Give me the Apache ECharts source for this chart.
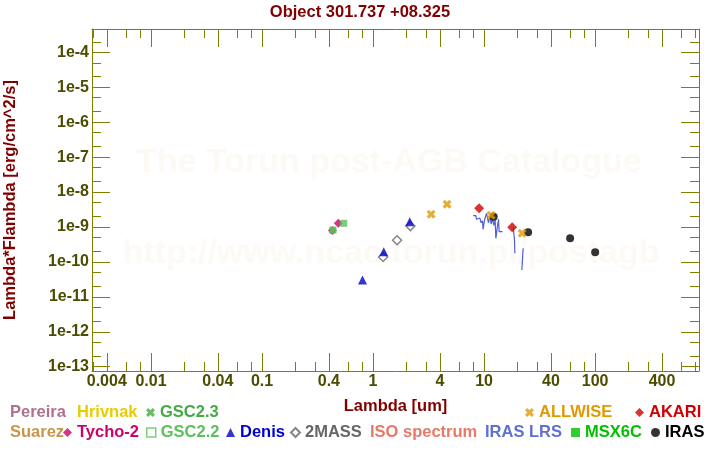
<!DOCTYPE html>
<html><head><meta charset="utf-8">
<script src="https://cdn.jsdelivr.net/npm/echarts@6/dist/echarts.min.js"></script>
<style>html,body{margin:0;padding:0;background:#fff}#c{width:720px;height:450px}</style>
</head><body><div id="c"></div>
<script>
// ---------- data ----------
const xTickLabels = ['0.004','0.01','0.04','0.1','0.4','1','4','10','40','100','400'];
const xMinorTicks = [0.003,0.006,0.008,0.02,0.03,0.06,0.08,0.2,0.3,0.6,0.8,2,3,6,8,20,30,60,80,200,300,600,800];
const yTickLabels = ['1e-13','1e-12','1e-11','1e-10','1e-9','1e-8','1e-7','1e-6','1e-5','1e-4'];
const yMinorTicks = [2e-13,5e-13,2e-12,5e-12,2e-11,5e-11,2e-10,5e-10,2e-9,5e-9,2e-8,5e-8,2e-7,5e-7,2e-6,5e-6,2e-5,5e-5,2e-4];
const xRange = [0.002944, 861];
const yRange = [7.53e-14, 4.645e-4];

const gsc23Lambda = [0.43];            const gsc23Flux = [7.9e-10];
const tychoLambda = [0.43, 0.486];     const tychoFlux = [7.9e-10, 1.27e-9];
const gsc22Lambda = [0.436, 0.544];    const gsc22Flux = [8.2e-10, 1.27e-9];
const denisLambda = [0.803, 1.248, 2.14];  const denisFlux = [3.03e-11, 1.95e-10, 1.41e-9];
const tmassLambda = [1.23, 1.645, 2.17];   const tmassFlux = [1.38e-10, 4.15e-10, 1.06e-9];
const allwiseLambda = [3.33, 4.64, 11.56, 22.0]; const allwiseFlux = [2.30e-9, 4.45e-9, 2.15e-9, 6.58e-10];
const akariLambda = [9.02, 17.9];      const akariFlux = [3.42e-9, 9.77e-10];
const irasLambda = [12.2, 24.9, 59.5, 100]; const irasFlux = [1.97e-9, 7.03e-10, 4.73e-10, 1.88e-10];
const lrsLambda = [7.96,8.42,8.54,8.90,9.15,9.40,9.67,9.79,10.08,10.36,10.51,10.80,10.95,11.26,11.56,11.90,12.23,12.57,12.75,13.10,13.48,13.65,14.05,14.65,null,18.25,18.79,18.91,null,22.46,21.86];
const lrsFlux = [2.10e-9,2.10e-9,1.66e-9,1.51e-9,1.80e-9,1.32e-9,1.51e-9,8.57e-10,1.58e-9,1.39e-9,2.46e-9,2.24e-9,1.32e-9,2.06e-9,1.21e-9,1.77e-9,1.11e-9,1.58e-9,4.73e-10,9.15e-10,1.66e-9,7.31e-10,7.81e-10,7.31e-10,null,9.77e-10,4.23e-10,1.76e-10,null,2.45e-10,5.85e-11];

// ---------- style ----------
const FONT = "'Liberation Sans', Arial, Helvetica, sans-serif";
const OLIVE = '#808000', LABEL = '#4c4c00', DARKRED = '#800000';
const CROSS = 'path://M0,2.5L2.5,0L5,2.5L7.5,0L10,2.5L7.5,5L10,7.5L7.5,10L5,7.5L2.5,10L0,7.5L2.5,5Z';
const FS = 16.5;

const lg = v => Math.log10(v);
const xMajorLog = xTickLabels.map(s => lg(Number(s)));
const yMajorLog = yTickLabels.map(s => lg(Number(s)));
const xMinorLog = xMinorTicks.map(lg);
const yMinorLog = yMinorTicks.map(lg);
const xl = [lg(xRange[0]), lg(xRange[1])];
const yl = [lg(yRange[0]), lg(yRange[1])];
const pick = (vals, labels) => v => { const i = vals.findIndex(t => Math.abs(t - v) < 1e-6); return i >= 0 ? labels[i] : ''; };
const pairs = (a, b) => a.map((v, i) => [v, b[i]]);

function deco(dim, position, ticks, len, opts) {
  const base = {
    type: 'value', position, min: dim === 'x' ? xl[0] : yl[0], max: dim === 'x' ? xl[1] : yl[1],
    splitLine: { show: false },
    axisLine: { show: !!(opts && opts.line), onZero: false, lineStyle: { color: OLIVE, width: 1 } },
    axisTick: { show: true, inside: true, length: len, customValues: ticks, lineStyle: { color: OLIVE, width: 1 } },
    axisLabel: { show: false },
    nameMoveOverlap: false
  };
  return Object.assign(base, opts && opts.extra);
}
const labelStyle = { color: LABEL, fontSize: 16, fontWeight: 'bold', fontFamily: FONT, margin: 3 };
const nameStyle = { color: DARKRED, fontSize: FS, fontWeight: 'bold', fontFamily: FONT };

const xAxes = [
  { type: 'log', min: xRange[0], max: xRange[1], show: false, axisLine: { onZero: false } },
  deco('x', 'bottom', xMajorLog, 18, { line: true, extra: {
    axisLabel: Object.assign({ show: true, customValues: xMajorLog, formatter: pick(xMajorLog, xTickLabels) }, labelStyle),
    name: 'Lambda [um]', nameLocation: 'middle', nameGap: 27, nameTextStyle: nameStyle } }),
  deco('x', 'bottom', xMinorLog, 9),
  deco('x', 'top', xMajorLog, 18, { line: true }),
  deco('x', 'top', xMinorLog, 9)
];
const yAxes = [
  { type: 'log', min: yRange[0], max: yRange[1], show: false, axisLine: { onZero: false } },
  deco('y', 'left', yMajorLog, 18, { line: true, extra: {
    axisLabel: Object.assign({ show: true, customValues: yMajorLog, formatter: pick(yMajorLog, yTickLabels) }, labelStyle),
    name: 'Lambda*Flambda [erg/cm^2/s]', nameLocation: 'middle', nameGap: 73, nameTextStyle: nameStyle } }),
  deco('y', 'left', yMinorLog, 9),
  deco('y', 'right', yMajorLog, 18, { line: true }),
  deco('y', 'right', yMinorLog, 9)
];

function scatter(name, lam, flux, symbol, size, itemStyle, z) {
  return { type: 'scatter', name, data: pairs(lam, flux), symbol, symbolSize: size, itemStyle, z, xAxisIndex: 0, yAxisIndex: 0, animation: false };
}
const series = [
  scatter('Pereira', [], [], 'circle', 6, { color: '#b07090' }, 2),
  scatter('Hrivnak', [], [], 'circle', 6, { color: '#e8cc00' }, 2),
  scatter('Suarez', [], [], 'circle', 6, { color: '#c8964a' }, 2),
  scatter('ISO spectrum', [], [], 'circle', 6, { color: '#e87868' }, 2),
  scatter('MSX6C', [], [], 'rect', 8, { color: '#00c000' }, 2),
  scatter('IRAS', irasLambda, irasFlux, 'circle', 8, { color: '#000000' }, 3),
  scatter('Tycho-2', tychoLambda, tychoFlux, 'diamond', 9, { color: '#d0006a' }, 4),
  scatter('GSC2.3', gsc23Lambda, gsc23Flux, CROSS, 7, { color: '#44aa44' }, 5),
  scatter('GSC2.2', gsc22Lambda, gsc22Flux, 'rect', 7, { color: '#5cc05c' }, 6),
  scatter('2MASS', tmassLambda, tmassFlux, 'diamond', 9, { color: '#ffffff', borderColor: '#666666', borderWidth: 1.5 }, 7),
  scatter('Denis', denisLambda, denisFlux, 'triangle', 9, { color: '#0000cc' }, 8),
  scatter('ALLWISE', allwiseLambda, allwiseFlux, CROSS, 9, { color: '#e09a00' }, 9),
  scatter('AKARI', akariLambda, akariFlux, 'diamond', 10, { color: '#d00000' }, 9)
];
// IRAS LRS spectrum, split at gaps
let seg = [];
const segs = [];
lrsLambda.forEach((l, i) => {
  if (l == null) { if (seg.length) segs.push(seg); seg = []; }
  else seg.push([l, lrsFlux[i]]);
});
if (seg.length) segs.push(seg);
segs.forEach(s => series.push({ type: 'line', name: 'IRAS LRS', data: s, showSymbol: false, symbol: 'none',
  lineStyle: { color: '#4f5fd8', width: 1.2 }, itemStyle: { color: '#4f5fd8' }, z: 2, animation: false }));

// ---------- legend layout (text start x, row) ----------
const legendItems = [
  { name: 'Pereira', x: 11, row: 0, color: '#b07090', icon: 'none' },
  { name: 'Hrivnak', x: 78, row: 0, color: '#e8cc00', icon: 'none' },
  { name: 'GSC2.3', x: 161, row: 0, color: '#44aa44' },
  { name: 'ALLWISE', x: 540, row: 0, color: '#e09a00' },
  { name: 'AKARI', x: 650, row: 0, color: '#d00000' },
  { name: 'Suarez', x: 11, row: 1, color: '#c8964a', icon: 'none' },
  { name: 'Tycho-2', x: 78, row: 1, color: '#d0006a' },
  { name: 'GSC2.2', x: 161, row: 1, color: '#5cc05c', itemStyle: { color: '#ffffff', borderColor: '#5cc05c', borderWidth: 1.5 } },
  { name: 'Denis', x: 241, row: 1, color: '#0000cc' },
  { name: '2MASS', x: 305, row: 1, color: '#666666' },
  { name: 'ISO spectrum', x: 371, row: 1, color: '#e87868', icon: 'none' },
  { name: 'IRAS LRS', x: 486, row: 1, color: '#6070d0', icon: 'none' },
  { name: 'MSX6C', x: 586, row: 1, color: '#00c000' },
  { name: 'IRAS', x: 666, row: 1, color: '#000000' }
];
const legends = legendItems.map(it => {
  const w = it.icon === 'none' ? 0 : 9;
  const d = { name: it.name };
  if (it.icon) d.icon = it.icon;
  if (it.itemStyle) d.itemStyle = it.itemStyle;
  return {
    data: [d], left: it.x - 1 - 5 - w, top: it.row ? 424 : 404,
    padding: 0, itemWidth: w, itemHeight: 9, selectedMode: false,
    textStyle: { color: it.color, fontSize: FS, fontWeight: 'bold', fontFamily: FONT }
  };
});

const chart = echarts.init(document.getElementById('c'), null, { renderer: 'canvas' });
chart.setOption({
  backgroundColor: '#ffffff',
  animation: false,
  title: { text: 'Object 301.737 +08.325', left: 'center', top: 4, padding: 0,
    textStyle: { color: DARKRED, fontSize: FS, fontWeight: 'bold', fontFamily: FONT } },
  grid: { left: 92, right: 21, top: 29, bottom: 79, containLabel: false, outerBoundsMode: 'none' },
  xAxis: xAxes,
  yAxis: yAxes,
  legend: legends,
  graphic: [
    { type: 'text', x: 389, y: 163, z: -10, silent: true,
      style: { text: 'The Torun post-AGB Catalogue', fontSize: 34, fontWeight: 'bold', fontFamily: FONT,
        fill: '#fdfaf5', align: 'center', verticalAlign: 'middle' } },
    { type: 'text', x: 391, y: 254, z: -10, silent: true,
      style: { text: 'http://www.ncac.torun.pl/postagb', fontSize: 34, fontWeight: 'bold', fontFamily: FONT,
        fill: '#fdfaf5', align: 'center', verticalAlign: 'middle' } }
  ],
  series
});
</script></body></html>
